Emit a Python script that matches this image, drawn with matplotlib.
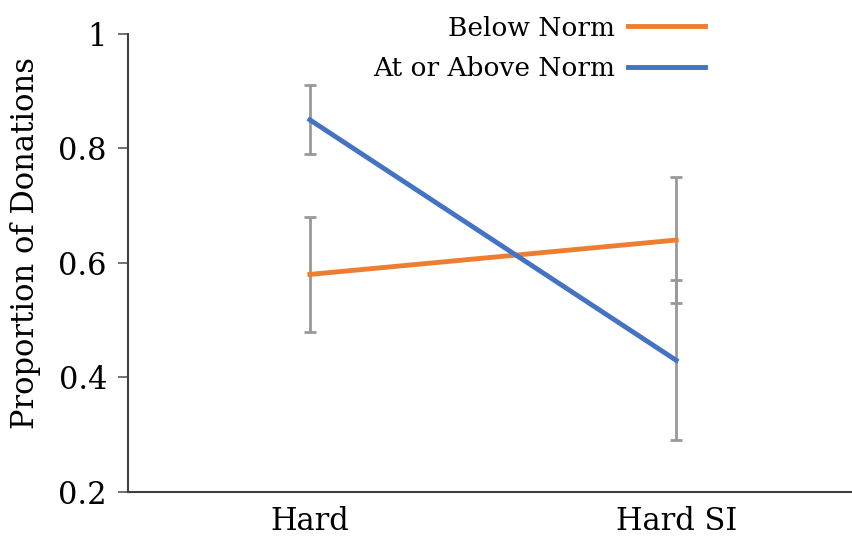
import matplotlib
matplotlib.use('Agg')
import matplotlib.pyplot as plt

# Proportion of donations by condition
conditions = ['Hard', 'Hard SI']
below_norm = [0.58, 0.64]
below_err = [0.10, 0.11]
above_norm = [0.85, 0.43]
above_err = [0.06, 0.14]

plt.rcParams['font.family'] = 'DejaVu Serif'

fig = plt.figure(figsize=(8.52, 5.44), dpi=100)
ax = fig.add_axes([0.150, 0.0956, 0.85, 0.842])

x = list(range(len(conditions)))
ax.errorbar(x, below_norm, yerr=below_err, fmt='none', ecolor='#999999',
            elinewidth=2, capsize=4, capthick=2, zorder=1)
ax.errorbar(x, above_norm, yerr=above_err, fmt='none', ecolor='#999999',
            elinewidth=2, capsize=4, capthick=2, zorder=1)
ax.plot(x, below_norm, color='#ED7D31', lw=3.5, label='Below Norm', zorder=3)
ax.plot(x, above_norm, color='#4472C4', lw=3.5, label='At or Above Norm', zorder=3)

ax.set_xlim(-0.497, 1.48)
ax.set_ylim(0.2, 1.0)
ax.set_yticks([0.2, 0.4, 0.6, 0.8, 1.0])
ax.set_yticklabels(['0.2', '0.4', '0.6', '0.8', '1'])
ax.set_xticks(x)
ax.set_xticklabels(conditions)
ax.tick_params(axis='y', length=7, width=1.2, color='#595959', labelsize=22, pad=8)
ax.tick_params(axis='x', length=0, labelsize=22, pad=10)
for s in ['top', 'right']:
    ax.spines[s].set_visible(False)
for s in ['left', 'bottom']:
    ax.spines[s].set_color('#404040')
    ax.spines[s].set_linewidth(1.5)
ax.set_ylabel('Proportion of Donations', fontsize=22)
ax.yaxis.set_label_coords(-0.12, 0.544)

ax.legend(loc='upper right', bbox_to_anchor=(0.797, 1.04), frameon=False,
          markerfirst=False, fontsize=19, handlelength=2.9, labelspacing=0.6,
          borderpad=0, borderaxespad=0, handletextpad=0.5, alignment='right')

fig.savefig('out.png', dpi=100)
